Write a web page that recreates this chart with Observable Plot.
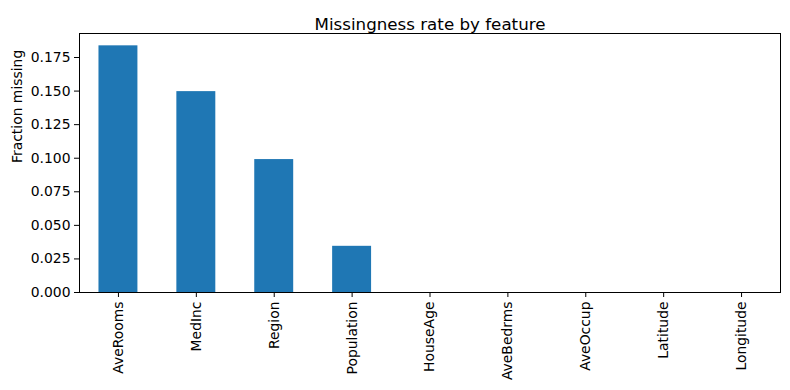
<!DOCTYPE html>
<html>
<head>
<meta charset="utf-8">
<script src="https://cdn.jsdelivr.net/npm/d3@7"></script>
<script src="https://cdn.jsdelivr.net/npm/@observablehq/plot@0.6"></script>
<style>
  body { margin: 0; background: #fff; }
  svg { font-family: "DejaVu Sans", sans-serif; }
</style>
</head>
<body>
<div id="chart"></div>
<script>
const features = ["AveRooms", "MedInc", "Region", "Population", "HouseAge", "AveBedrms", "AveOccup", "Latitude", "Longitude"];
const missing = [0.1837, 0.1496, 0.0990, 0.0344, 0, 0, 0, 0, 0];
const yTicks = [0, 0.025, 0.05, 0.075, 0.1, 0.125, 0.15, 0.175];
const title = "Missingness rate by feature";
const yLabel = "Fraction missing";

const data = features.map((f, i) => ({feature: f, value: missing[i]}));

const chart = Plot.plot({
  width: 790,
  height: 390,
  marginLeft: 79,
  marginRight: 10,
  marginTop: 33,
  marginBottom: 98,
  style: {fontFamily: "DejaVu Sans, sans-serif", fontSize: "13.9px", color: "#000", background: "#fff"},
  x: {domain: features, paddingInner: 0.5, paddingOuter: 0.25, round: false, label: null},
  y: {domain: [0, 0.1837 * 1.05], label: null},
  marks: [
    Plot.barY(data, {x: "feature", y: "value", fill: "#1f77b4"}),
    Plot.frame({stroke: "#000", strokeWidth: 1}),
    Plot.axisY({ticks: yTicks, tickFormat: d3.format(".3f"), tickSize: 5, tickPadding: 4, fontSize: 13.9, label: null}),
    Plot.axisX({tickSize: 5, tickRotate: -90, tickPadding: 4, fontSize: 13.9, label: null}),
    Plot.text([yLabel], {frameAnchor: "left", dx: -62, rotate: -90, fontSize: 13.9, fill: "#000"}),
    Plot.text([title], {frameAnchor: "top", dy: -15, fontSize: 16.7, fill: "#000"})
  ]
});
document.getElementById("chart").appendChild(chart);
</script>
</body>
</html>
